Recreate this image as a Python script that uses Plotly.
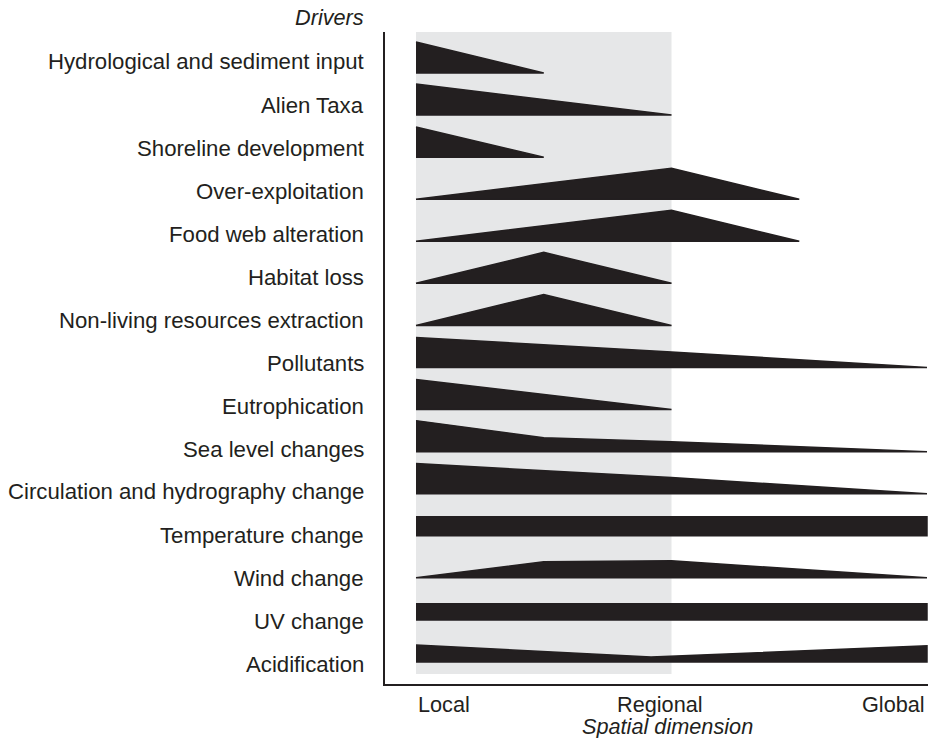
import plotly.graph_objects as go

# ---------------- data ----------------
drivers = [
    "Hydrological and sediment input",
    "Alien Taxa",
    "Shoreline development",
    "Over-exploitation",
    "Food web alteration",
    "Habitat loss",
    "Non-living resources extraction",
    "Pollutants",
    "Eutrophication",
    "Sea level changes",
    "Circulation and hydrography change",
    "Temperature change",
    "Wind change",
    "UV change",
    "Acidification",
]
# spatial positions: 0 = Local, 1 = Regional, 2 = Global
scale_x = [
    [0, 0.5],
    [0, 1],
    [0, 0.5],
    [0, 1, 1.5],
    [0, 1, 1.5],
    [0, 0.5, 1],
    [0, 0.5, 1],
    [0, 1, 2],
    [0, 1],
    [0, 0.5, 1, 2],
    [0, 0.5, 1, 2],
    [0, 2],
    [0, 0.5, 1, 2],
    [0, 2],
    [0, 0.92, 2],
]
# relative importance (width of the wedge) at each position
importance = [
    [1.0, 0.0],
    [1.0, 0.0],
    [0.97, 0.0],
    [0.0, 1.0, 0.0],
    [0.0, 1.0, 0.0],
    [0.0, 1.0, 0.0],
    [0.0, 1.0, 0.0],
    [0.97, 0.5, 0.0],
    [0.97, 0.0],
    [1.0, 0.45, 0.32, 0.0],
    [0.97, 0.74, 0.52, 0.0],
    [0.61, 0.61],
    [0.0, 0.52, 0.55, 0.0],
    [0.52, 0.52],
    [0.55, 0.16, 0.52],
]
tick_labels = ["Local", "Regional", "Global"]

# ---------------- style ----------------
INK = "#231f20"
GREY = "#e6e7e8"
FONT = "Liberation Sans, Arial, Helvetica, sans-serif"
FS_LAB = 22.2
FS = 21.7
ROW_H = 0.737  # wedge height of importance 1, in row units

fig = go.Figure()

for r, (xs, vs) in enumerate(zip(scale_x, importance)):
    base = -r
    px = list(xs) + list(reversed(xs))
    py = [base + v * ROW_H for v in vs] + [base] * len(xs)
    fig.add_trace(go.Scatter(
        x=px, y=py, mode="lines", fill="toself",
        fillcolor=INK, line=dict(color=INK, width=1.5),
        hoverinfo="skip", showlegend=False,
    ))

# plot geometry (pixels)
W, H = 930, 738
L, T, B_PX = 385, 32, 684
X0_PX, X2_PX = 416, 927
ppu_x = (X2_PX - X0_PX) / 2.0
xr = [(L - X0_PX) / ppu_x, (W - 2 - X0_PX) / ppu_x]
BASE0, ROW_PX = 73, 42.07
yr = [-(B_PX - BASE0) / ROW_PX, (BASE0 - T) / ROW_PX]


def paper_y(pix):
    return (B_PX - pix) / (B_PX - T)


# grey band for the local-regional zone
fig.add_shape(type="rect", xref="x", yref="paper", x0=0, x1=1,
              y0=paper_y(674), y1=1.0, fillcolor=GREY, line_width=0, layer="below")

annotations = []
for i, name in enumerate(drivers):
    annotations.append(dict(
        text=name, xref="paper", yref="paper", x=0, xshift=-19,
        y=paper_y(62 + 43 * i), xanchor="right", yanchor="middle",
        showarrow=False, font=dict(family=FONT, size=FS_LAB, color=INK)))
annotations.append(dict(
    text="<i>Drivers</i>", xref="paper", yref="paper", x=0, xshift=-19,
    y=paper_y(17), xanchor="right", yanchor="middle", showarrow=False,
    font=dict(family=FONT, size=FS, color=INK)))
tick_pos = [(0, "left"), ((660 - X0_PX) / ppu_x, "center"), (2, "right")]
for lab, (xp, anc) in zip(tick_labels, tick_pos):
    annotations.append(dict(
        text=lab, xref="x", yref="paper", x=xp, y=paper_y(704),
        xanchor=anc, yanchor="middle", showarrow=False,
        font=dict(family=FONT, size=FS, color=INK)))
annotations.append(dict(
    text="<i>Spatial dimension</i>", xref="x", yref="paper",
    x=(667 - X0_PX) / ppu_x, y=paper_y(726), xanchor="center", yanchor="middle",
    showarrow=False, font=dict(family=FONT, size=FS, color=INK)))

fig.update_layout(
    width=W, height=H,
    margin=dict(l=L, r=2, t=T, b=H - B_PX),
    paper_bgcolor="white", plot_bgcolor="white",
    annotations=annotations,
    xaxis=dict(range=xr, showgrid=False, zeroline=False, showticklabels=False,
               ticks="", showline=True, linecolor=INK, linewidth=1.5, fixedrange=True),
    yaxis=dict(range=yr, showgrid=False, zeroline=False, showticklabels=False,
               ticks="", showline=True, linecolor=INK, linewidth=1.5, fixedrange=True),
)

fig.write_html(
    "out.html",
    config={"displayModeBar": False},
    post_script="document.body.style.margin='0';document.body.style.overflow='hidden';",
)
